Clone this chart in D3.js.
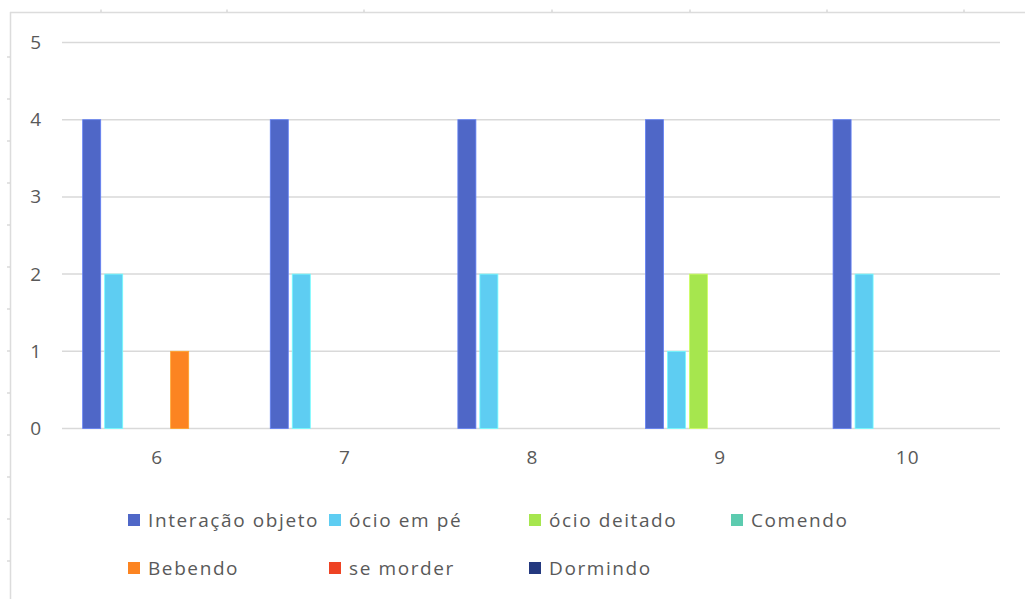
<!DOCTYPE html>
<html>
<head>
<meta charset="utf-8">
<script src="https://cdn.jsdelivr.net/npm/d3@7"></script>
<style>
  html, body { margin: 0; padding: 0; background: #fff; }
  svg { display: block; }
  text { font-family: "Open Sans", "Noto Sans", sans-serif; fill: #595959; }
</style>
</head>
<body>
<svg id="chart" width="1025" height="599"></svg>
<script>
// Sessions (x categories)
const categories = ["6", "7", "8", "9", "10"];

// Behaviour series, in legend order
const seriesNames = ["Interação objeto", "ócio em pé", "ócio deitado", "Comendo", "Bebendo", "se morder", "Dormindo"];
const seriesColors = ["#4f67c7", "#5ecdf2", "#a6e64e", "#5ccbaf", "#fc8421", "#ee4324", "#24397f"];

// Counts per session, one array per behaviour
const interacaoObjeto = [4, 4, 4, 4, 4];
const ocioEmPe        = [2, 2, 2, 1, 2];
const ocioDeitado     = [0, 0, 0, 2, 0];
const comendo         = [0, 0, 0, 0, 0];
const bebendo         = [1, 0, 0, 0, 0];
const seMorder        = [0, 0, 0, 0, 0];
const dormindo        = [0, 0, 0, 0, 0];
const seriesValues = [interacaoObjeto, ocioEmPe, ocioDeitado, comendo, bebendo, seMorder, dormindo];

const yTicks = [0, 1, 2, 3, 4, 5];

const svg = d3.select("#chart");

// Sheet frame behind the chart
const frame = svg.append("g");
frame.append("line").attr("x1", 10).attr("x2", 1025).attr("y1", 12.5).attr("y2", 12.5)
  .attr("stroke", "#dcdcdc").attr("stroke-width", 1.5);
frame.append("line").attr("x1", 10.5).attr("x2", 10.5).attr("y1", 12).attr("y2", 599)
  .attr("stroke", "#dcdcdc").attr("stroke-width", 1.5);
[101, 227, 364, 552, 690, 827, 964].forEach(x => {
  frame.append("line").attr("x1", x).attr("x2", x).attr("y1", 9.5).attr("y2", 12)
    .attr("stroke", "#d0d0d0").attr("stroke-width", 1.2);
});
d3.range(57, 599, 42).forEach(y => {
  frame.append("line").attr("x1", 7).attr("x2", 10).attr("y1", y).attr("y2", y)
    .attr("stroke", "#d0d0d0").attr("stroke-width", 1.2);
});

// Plot area
const plot = { left: 62, right: 1000, top: 42.5, bottom: 428.5 };

const x0 = d3.scaleBand().domain(categories).range([plot.left, plot.right]).paddingInner(0).paddingOuter(0);
const x1 = d3.scaleBand().domain(seriesNames).range([0, x0.bandwidth()])
  .paddingInner(0.18).paddingOuter(0.854).align(0.55);
const y = d3.scaleLinear().domain([0, 5]).range([plot.bottom, plot.top]);

// Gridlines
svg.append("g")
  .selectAll("line").data(yTicks).join("line")
  .attr("x1", plot.left).attr("x2", plot.right)
  .attr("y1", d => y(d)).attr("y2", d => y(d))
  .attr("stroke", "#d9d9d9").attr("stroke-width", 1.5);

// Y axis labels
const yAxis = svg.append("g").attr("transform", `translate(${plot.left - 21},0)`)
  .call(d3.axisLeft(y).tickValues(yTicks).tickFormat(d3.format("d")).tickSize(0).tickPadding(0));
yAxis.select(".domain").remove();
yAxis.selectAll("text").attr("font-size", 19).attr("font-family", null).attr("fill", "#595959");

// X axis labels
const xAxis = svg.append("g").attr("transform", `translate(1.5,${plot.bottom})`)
  .call(d3.axisBottom(x0).tickSize(0).tickPadding(22));
xAxis.select(".domain").remove();
xAxis.selectAll("text").attr("font-size", 19).attr("font-family", null)
  .attr("letter-spacing", 1).attr("fill", "#595959");

// Bars
const groups = svg.append("g").selectAll("g").data(categories).join("g")
  .attr("transform", d => `translate(${x0(d)},0)`);
groups.selectAll("rect")
  .data((c, ci) => seriesNames.map((s, si) => ({ s, si, v: seriesValues[si][ci] })))
  .join("rect")
  .attr("x", d => x1(d.s))
  .attr("width", x1.bandwidth())
  .attr("y", d => y(d.v))
  .attr("height", d => y(0) - y(d.v))
  .attr("fill", d => seriesColors[d.si])
  .attr("stroke", d => d.v > 0 ? d3.color(seriesColors[d.si]).brighter(0.6) : "none")
  .attr("stroke-width", 0.8);

// Legend: two rows of four columns
const legend = svg.append("g");
const colX = [128, 329, 529, 731];
const rowY = [520, 568];
seriesNames.forEach((name, i) => {
  const gx = colX[i % 4], gy = rowY[Math.floor(i / 4)];
  const item = legend.append("g").attr("transform", `translate(${gx},${gy})`);
  item.append("rect").attr("x", 0).attr("y", -6).attr("width", 12).attr("height", 12)
    .attr("fill", seriesColors[i]);
  item.append("text").attr("x", 20).attr("y", 0).attr("dy", "0.35em")
    .attr("font-size", 19).attr("letter-spacing", 1.6).text(name);
});
</script>
</body>
</html>
